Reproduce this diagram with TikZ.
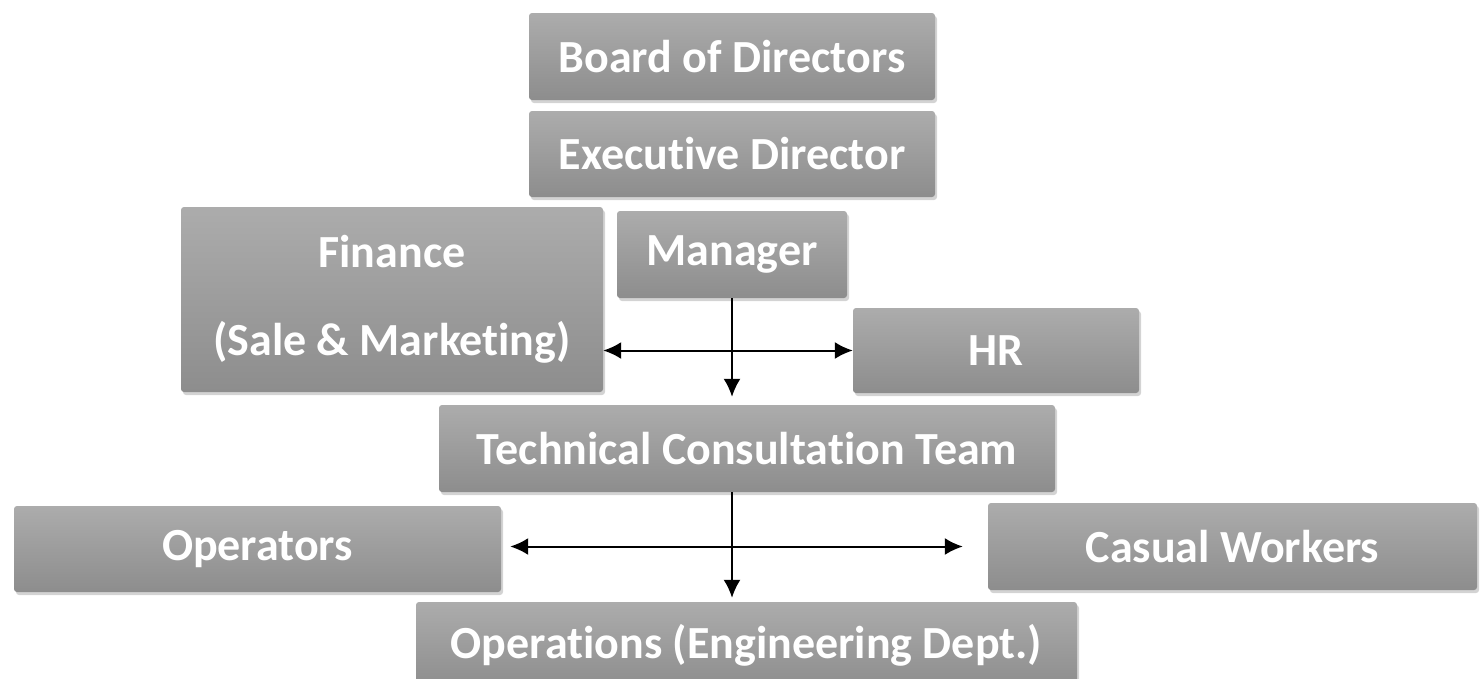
\documentclass[tikz,border=0pt]{standalone}
\usepackage{fontspec}
\setmainfont{Carlito}[Ligatures={NoCommon}]
\usetikzlibrary{shadows,arrows.meta}

\definecolor{boxtop}{RGB}{172,172,172}
\definecolor{boxbot}{RGB}{141,141,141}

\tikzset{
    orgbox/.style={rectangle, rounded corners=3pt, inner sep=0pt,
        top color=boxtop, bottom color=boxbot, draw=none,
        drop shadow={opacity=0.35, shadow xshift=2pt, shadow yshift=-3pt},
        text=white, font=\bfseries\fontsize{46}{88}\selectfont, align=center},
    twoway/.style={{Latex[length=18pt,width=17pt]}-{Latex[length=18pt,width=17pt]}, line width=2pt},
    oneway/.style={-{Latex[length=18pt,width=17pt]}, line width=2pt}
}

\begin{document}
\begin{tikzpicture}[x=1pt, y=-1pt]
            \useasboundingbox (0, 0) rectangle (1482, 678);
            \clip (0, 0) rectangle (1482, 678);

            \node[orgbox, minimum width=406, minimum height=87] (bod) at (732, 56.5) {Board of Directors};
            \node[orgbox, minimum width=406, minimum height=86] (exd) at (732, 154) {Executive Director};
            \node[orgbox, minimum width=422, minimum height=185] (fin) at (392, 299.5) {Finance\\(Sale \& Marketing)};
            \node[orgbox, minimum width=230, minimum height=87] (mgr) at (732, 254.5) {\raisebox{-4pt}{Manager}};
            \node[orgbox, minimum width=286, minimum height=85] (hr) at (996, 350.5) {HR};
            \node[orgbox, minimum width=616, minimum height=87] (tct) at (747, 448.5) {Technical Consultation Team};

            \node[orgbox, minimum width=487, minimum height=86] (ops) at (257.5, 549) {Operators};
            \node[orgbox, minimum width=489, minimum height=87] (cas) at (1232.5, 546.5) {Casual Workers};
            \node[orgbox, minimum width=661, minimum height=86] (opn) at (746.5, 645) {Operations (Engineering Dept.)};

            % manager level
            \draw[oneway, shorten >=8pt] (mgr.south) -- (mgr.south |- tct.north);
            \draw[twoway] (fin.east |- hr.west) -- (hr.west);

            % technical team level
            \draw[oneway, shorten >=4pt] (tct.south -| mgr.south) -- (mgr.south |- opn.north);
            \draw[twoway, shorten <=9pt, shorten >=25pt] (ops.east |- cas.west) -- (cas.west);
        \end{tikzpicture}
\end{document}
